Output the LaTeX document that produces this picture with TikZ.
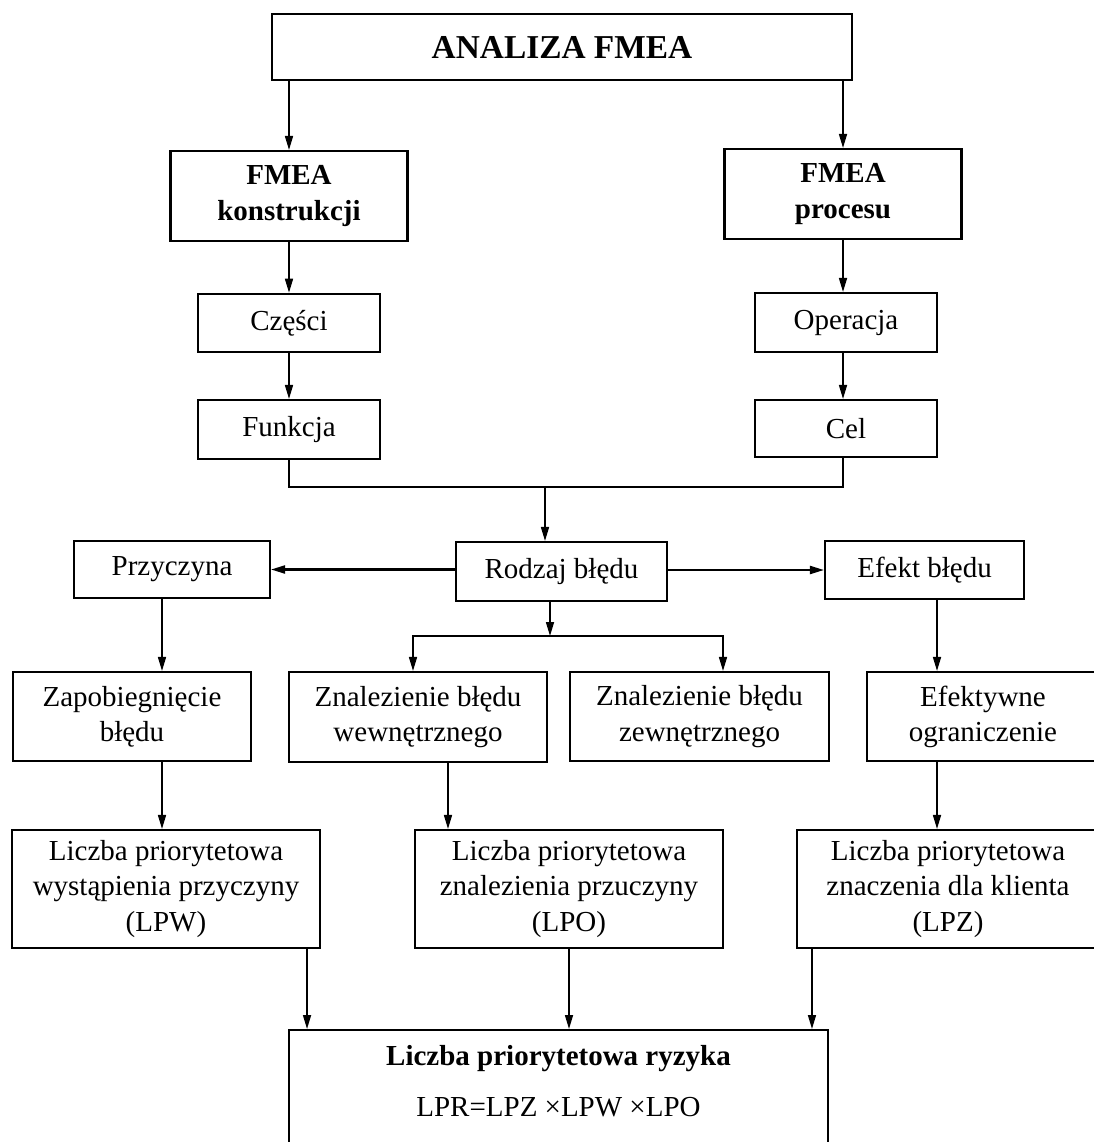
\documentclass[tikz,border=0pt]{standalone}
\usepackage{fontspec}
\setmainfont{Liberation Serif}
\usetikzlibrary{arrows.meta}

\begin{document}
\begin{tikzpicture}[x=0.02cm, y=-0.02cm,
  blok/.style={draw, line width=1.2pt, align=center, inner sep=0pt, font=\fontsize{16.5}{20}\selectfont},
  gruby/.style={font=\fontsize{16.5}{20}\selectfont\bfseries},
  strz/.style={line width=0.9pt, -{Triangle[length=0.28cm, width=0.16cm]}}]
  \useasboundingbox (0,0) rectangle (1094,1142);
  \clip (0,0) rectangle (1094,1142);

  % gora
  \node[blok, minimum width=11.6cm, minimum height=1.32cm, font=\fontsize{19}{23}\selectfont\bfseries] (analiza) at (562,47) {ANALIZA FMEA};
  \node[blok, gruby, minimum width=4.74cm, minimum height=1.8cm] (konstr) at (289,196) {FMEA\\konstrukcji};
  \node[blok, gruby, minimum width=4.74cm, minimum height=1.8cm] (procesu) at (843,194) {FMEA\\procesu};
  \node[blok, minimum width=3.64cm, minimum height=1.17cm] (czesci) at (289,323) {Części};
  \node[blok, minimum width=3.64cm, minimum height=1.18cm] (operacja) at (846,322.5) {Operacja};
  \node[blok, minimum width=3.64cm, minimum height=1.18cm] (funkcja) at (289,429.5) {Funkcja};
  \node[blok, minimum width=3.64cm, minimum height=1.14cm] (cel) at (846,428.5) {Cel};
  \coordinate (laczenie) at (545,487);

  % srodek
  \node[blok, minimum width=4.22cm, minimum height=1.18cm] (rodzaj) at (561.5,571.5) {Rodzaj błędu};
  \node[blok, minimum width=3.92cm, minimum height=1.14cm] (przyczyna) at (172,569.5) {Przyczyna};
  \node[blok, minimum width=3.98cm, minimum height=1.16cm] (efekt) at (924.5,570) {Efekt błędu};
  \coordinate (rozg) at (550,636);
  \node[blok, minimum width=4.76cm, minimum height=1.78cm] (zapob) at (132,716.5) {Zapobiegnięcie\\błędu};
  \node[blok, minimum width=5.16cm, minimum height=1.8cm] (wewn) at (418,717) {Znalezienie błędu\\wewnętrznego};
  \node[blok, minimum width=5.18cm, minimum height=1.78cm] (zewn) at (699.5,716.5) {Znalezienie błędu\\zewnętrznego};
  \node[blok, minimum width=4.64cm, minimum height=1.78cm] (efektywne) at (983,716.5) {Efektywne\\ograniczenie};

  % dol
  \node[blok, minimum width=6.16cm, minimum height=2.36cm] (lpw) at (166,889) {Liczba priorytetowa\\wystąpienia przyczyny\\(LPW)};
  \node[blok, minimum width=6.16cm, minimum height=2.36cm] (lpo) at (569,889) {Liczba priorytetowa\\znalezienia przuczyny\\(LPO)};
  \node[blok, minimum width=6.04cm, minimum height=2.36cm] (lpz) at (948,889) {Liczba priorytetowa\\znaczenia dla klienta\\(LPZ)};
  \node[blok, anchor=north, minimum width=10.78cm, inner ysep=0.3cm, text depth=1.2cm] (lpr) at (558.5,1029) {\textbf{Liczba priorytetowa ryzyka}\\[9pt]LPR=LPZ ×LPW ×LPO};

  % strzalki
  \draw[strz] (analiza.south -| konstr.north) -- (konstr.north);
  \draw[strz] (analiza.south -| procesu.north) -- (procesu.north);
  \draw[strz] (konstr.south) -- (konstr.south |- czesci.north);
  \draw[strz] (procesu.south) -- (procesu.south |- operacja.north);
  \draw[strz] (czesci.south) -- (czesci.south |- funkcja.north);
  \draw[strz] (operacja.south -| procesu.south) -- (procesu.south |- cel.north);
  \draw[line width=0.9pt] (funkcja.south) |- (laczenie) -| (cel.south -| procesu.south);
  \draw[strz] (laczenie) -- (laczenie |- rodzaj.north);
  \draw[strz, line width=1.2pt] (przyczyna.east -| rodzaj.west) -- (przyczyna.east);
  \draw[strz, line width=1.2pt] (efekt.west -| rodzaj.east) -- (efekt.west);
  \draw[strz] (rozg |- rodzaj.south) -- (rozg);
  \draw[strz] (rozg) -| ([xshift=-0.1cm]wewn.north);
  \draw[strz] (rozg) -| ([xshift=0.47cm]zewn.north);
  \draw[strz] ([xshift=-0.2cm]przyczyna.south) coordinate (p1) -- (p1 |- zapob.north);
  \draw[strz] (zapob.south -| p1) -- (p1 |- lpw.north);
  \draw[strz] ([xshift=0.25cm]efekt.south) coordinate (e1) -- (e1 |- efektywne.north);
  \draw[strz] (efektywne.south -| e1) -- (e1 |- lpz.north);
  \draw[strz] ([xshift=0.6cm]wewn.south) coordinate (w1) -- (w1 |- lpo.north);
  \draw[strz] ([xshift=-0.28cm]lpw.south east) coordinate (l1) -- (l1 |- lpr.north);
  \draw[strz] (lpo.south) -- (lpo.south |- lpr.north);
  \draw[strz] ([xshift=0.32cm]lpz.south west) coordinate (l3) -- (l3 |- lpr.north);
\end{tikzpicture}
\end{document}
